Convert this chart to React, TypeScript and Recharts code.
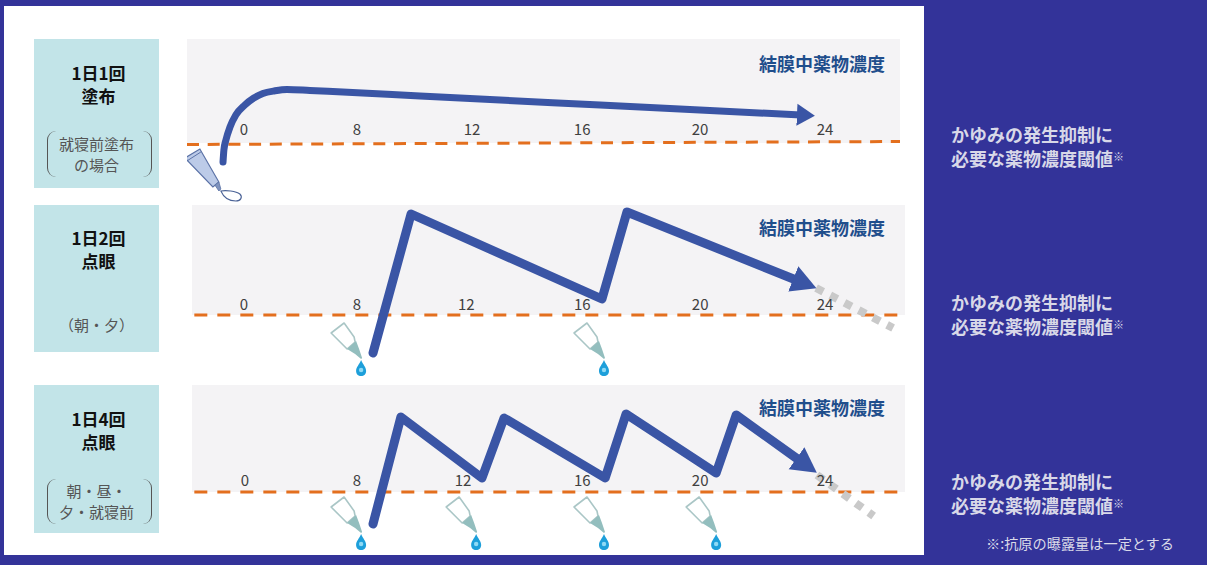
import React from "react";
import { LineChart, Line, XAxis, YAxis, ReferenceArea, ReferenceLine, ReferenceDot } from "recharts";

const JP = '"Noto Sans CJK JP", "Noto Sans", sans-serif';
const NAVY = "#333399";
const BLUE = "#3A55A5";
const ORANGE = "#E36F1E";
const GREY_BAND = "#F4F3F5";
const GREY_TAIL = "#C9C9C9";

const tickLabels = ["0", "8", "12", "16", "20", "24"];

// 1日1回 塗布
const onceHours = [3.39, 3.42, 3.49, 3.63, 3.83, 4.14, 4.45, 4.76, 5.18, 5.59, 6.38, 7.17, 10.17, 16.37, 23.28];
const onceLevels = [43, 55, 65, 78, 90, 100, 107, 111.5, 114.2, 115.5, 114.5, 113.4, 109, 100, 90];
const onceTicks = [4.11, 8, 11.96, 15.75, 19.81, 24.11];

// 1日2回 点眼
const twiceHours = [8.55, 9.86, 16.43, 17.29, 23.11];
const twiceLevels = [22, 161, 76, 163, 95];
const twiceTailHours = [23.8, 26.45];
const twiceTailLevels = [87, 47];
const twiceDoses = [8.14, 16.5];
const twiceTicks = [4.11, 8, 11.76, 15.75, 19.81, 24.11];

// 1日4回 点眼
const fourHours = [8.55, 9.51, 12.3, 13.06, 16.54, 17.26, 20.36, 21.05, 23.21];
const fourLevels = [28, 135, 74, 134, 74, 138, 79, 137, 92];
const fourTailHours = [23.83, 25.78];
const fourTailLevels = [77, 36];
const fourDoses = [8.14, 12.1, 16.5, 20.36];
const fourTicks = [4.14, 8, 11.65, 15.75, 19.81, 24.11];

const toPoints = (hours: number[], levels: number[]) => hours.map((hour, i) => ({ hour, level: levels[i] }));

function Tube({ cx, cy }: any) {
  return (
    <g transform={`translate(${cx},${cy})`}>
      <path d="M-37,-12 L-22,-21 L-3,12 L-9,17 Z" fill="#BCCBE8" stroke="#5B72A6" strokeWidth={1.2} />
      <path d="M-35,-9 L-21,-18" stroke="#5B72A6" strokeWidth={1} fill="none" />
      <path d="M-7,15 L-3,12 L-1,19 L-3,21 Z" fill="#7F93BD" stroke="#5B72A6" strokeWidth={0.8} />
      <path d="M-1,21 C4,20 14,21 18,24 C21,27 19,31 14,31 C7,31 2,28 -1,21 Z" fill="#fff" stroke="#4A6296" strokeWidth={1.1} />
    </g>
  );
}

function Dropper({ cx, cy }: any) {
  return (
    <g transform={`translate(${cx},${cy})`}>
      <path d="M-30,-36 L-17,-46 L-7,-32 L-6,-27 L-14,-20 L-18,-24 Z" fill="#fff" stroke="#AAC6C6" strokeWidth={1.6} strokeLinejoin="round" />
      <path d="M-14,-20 L-5,-28 L-2,-20 L1,-11 L0,-10 L-6,-15 Z" fill="#93BEBE" />
      <path d="M0,-9 C-2,-4 -5,-2 -5,2 C-5,5 -3,7 0,7 C3,7 5,5 5,2 C5,-2 2,-4 0,-9 Z" fill="#1D9FDA" />
      <circle cx={0} cy={1} r={2.2} fill="#8FDAF5" />
    </g>
  );
}

const CHART_WIDTH = 713;
const AXIS_HEIGHT = 1;

function ThresholdChart({
  id, left, top, height, domain, topLevel, threshold, ticks, tickShift, line, lineWidth, head,
  tail, doses, doseLevel, tube, dash,
}: any) {
  return (
    <div style={{ position: "absolute", left, top }}>
      <LineChart width={CHART_WIDTH} height={height + AXIS_HEIGHT} margin={{ top: 0, right: 0, bottom: 0, left: 0 }}>
        <defs>
          <marker id={id} markerUnits="userSpaceOnUse" markerWidth={head.length + 2} markerHeight={head.width + 2}
            refX={head.back} refY={head.width / 2 + 1} orient="auto">
            <path d={`M0,1 L${head.length},${head.width / 2 + 1} L0,${head.width + 1} Z`} fill={BLUE} />
          </marker>
        </defs>
        <ReferenceArea x1={domain[0]} x2={domain[1]} y1={threshold[2]} y2={topLevel} fill={GREY_BAND} fillOpacity={1} stroke="none" />
        <ReferenceLine
          segment={[{ x: threshold[3], y: threshold[0] }, { x: threshold[4], y: threshold[1] }]}
          stroke={ORANGE}
          strokeWidth={3}
          strokeDasharray={dash}
        />
        {tail && (
          <Line data={tail} dataKey="level" stroke={GREY_TAIL} strokeWidth={8} strokeDasharray="8 8" dot={false} isAnimationActive={false} />
        )}
        <Line
          data={line}
          dataKey="level"
          type={tube ? "monotone" : "linear"}
          stroke={BLUE}
          strokeWidth={lineWidth}
          strokeLinecap="round"
          strokeLinejoin="round"
          dot={false}
          isAnimationActive={false}
          markerEnd={`url(#${id})`}
        />
        {tube && <ReferenceDot x={tube[0]} y={tube[1]} r={1} shape={(p: any) => <Tube {...p} />} />}
        {doses && doses.map((d: number) => (
          <ReferenceDot key={d} x={d} y={doseLevel} r={1} shape={(p: any) => <Dropper {...p} />} />
        ))}
        <XAxis
          type="number"
          dataKey="hour"
          domain={domain}
          ticks={ticks}
          height={AXIS_HEIGHT}
          axisLine={false}
          tickLine={false}
          interval={0}
          tick={(p: any) => (
            <text x={p.x} y={p.y + tickShift} textAnchor="middle" fill="#404040" fontSize={15} fontFamily={JP}>
              {tickLabels[p.index]}
            </text>
          )}
        />
        <YAxis hide type="number" domain={[0, topLevel]} width={0} />
      </LineChart>
    </div>
  );
}

function Bracket({ left, top, height, side }: any) {
  const isLeft = side === "left";
  return (
    <div
      style={{
        position: "absolute", left, top, width: 9, height,
        borderLeft: isLeft ? "1.4px solid #555" : undefined,
        borderRight: isLeft ? undefined : "1.4px solid #555",
        borderRadius: isLeft ? "9px 0 0 9px" : "0 9px 9px 0",
      }}
    />
  );
}

function DoseBox({ top, height, title, titleTop, sub, subTop, bracket }: any) {
  return (
    <>
      <div style={{ position: "absolute", left: 34, top, width: 125, height, background: "#C2E4E8" }} />
      <div style={{ position: "absolute", left: 36, top: titleTop, width: 125, textAlign: "center", fontSize: 17, lineHeight: "23px", fontWeight: 700, color: "#111" }}>
        {title[0]}<br />{title[1]}
      </div>
      <div style={{ position: "absolute", left: 34, top: subTop, width: 125, textAlign: "center", fontSize: 15, lineHeight: "20.5px", color: "#555" }}>
        {sub.map((t: string, i: number) => <React.Fragment key={t}>{i > 0 && <br />}{t}</React.Fragment>)}
      </div>
      {bracket && (
        <>
          <Bracket left={47} top={bracket[0]} height={bracket[1]} side="left" />
          <Bracket left={142} top={bracket[0]} height={bracket[1]} side="right" />
        </>
      )}
    </>
  );
}

function Caption({ top }: { top: number }) {
  return (
    <div style={{ position: "absolute", left: 759, top, fontSize: 18, lineHeight: "24px", fontWeight: 700, color: "#1F4E8C", whiteSpace: "nowrap" }}>
      結膜中薬物濃度
    </div>
  );
}

function ThresholdNote({ top }: { top: number }) {
  return (
    <div style={{ position: "absolute", left: 951, top, fontSize: 18, lineHeight: "22px", fontWeight: 700, color: "#D8D8E8", whiteSpace: "nowrap" }}>
      かゆみの発生抑制に<br />
      必要な薬物濃度閾値<span style={{ fontSize: 11, verticalAlign: 5 }}>※</span>
    </div>
  );
}

export default function App() {
  return (
    <div style={{ position: "absolute", left: 0, top: 0, width: 1207, height: 565, background: NAVY, fontFamily: JP, overflow: "hidden" }}>
      <div style={{ position: "absolute", left: 4, top: 6, width: 920, height: 549, background: "#fff" }} />

      <DoseBox top={39} height={149} title={["1日1回", "塗布"]} titleTop={61} sub={["就寝前塗布", "の場合"]} subTop={134} bracket={[131, 46]} />
      <DoseBox top={205} height={147} title={["1日2回", "点眼"]} titleTop={226} sub={["（朝・夕）"]} subTop={315} />
      <DoseBox top={385} height={148} title={["1日4回", "点眼"]} titleTop={407} sub={["朝・昼・", "夕・就寝前"]} subTop={481} bracket={[479, 45]} />

      <ThresholdChart
        id="arrow-once"
        left={187}
        top={39}
        height={166}
        domain={[2.15, 26.69]}
        topLevel={166}
        threshold={[60.5, 63.5, 62, 2.15, 26.69]}
        ticks={onceTicks}
        tickShift={-78}
        line={toPoints(onceHours, onceLevels)}
        lineWidth={7}
        head={{ length: 18, width: 22, back: 4 }}
        tube={[3.35, 35]}
        dash="12 8.7"
      />
      <ThresholdChart
        id="arrow-twice"
        left={192}
        top={205}
        height={170}
        domain={[2.32, 26.86]}
        topLevel={170}
        threshold={[60, 60, 60, 2.4, 26.7]}
        ticks={twiceTicks}
        tickShift={-73}
        line={toPoints(twiceHours, twiceLevels)}
        lineWidth={9}
        head={{ length: 25, width: 27, back: 3 }}
        tail={toPoints(twiceTailHours, twiceTailLevels)}
        doses={twiceDoses}
        doseLevel={6}
        dash="13 10"
      />
      <ThresholdChart
        id="arrow-four"
        left={192}
        top={385}
        height={167}
        domain={[2.32, 26.86]}
        topLevel={167}
        threshold={[60, 60, 60, 2.4, 26.7]}
        ticks={fourTicks}
        tickShift={-74}
        line={toPoints(fourHours, fourLevels)}
        lineWidth={9}
        head={{ length: 25, width: 27, back: 3 }}
        tail={toPoints(fourTailHours, fourTailLevels)}
        doses={fourDoses}
        doseLevel={9}
        dash="13 10"
      />

      <Caption top={51} />
      <Caption top={215} />
      <Caption top={395} />

      <ThresholdNote top={123} />
      <ThresholdNote top={291} />
      <ThresholdNote top={470} />

      <div style={{ position: "absolute", left: 986, top: 534, fontSize: 14.2, lineHeight: "18px", color: "#DADAE8", whiteSpace: "nowrap" }}>
        ※:抗原の曝露量は一定とする
      </div>
    </div>
  );
}
